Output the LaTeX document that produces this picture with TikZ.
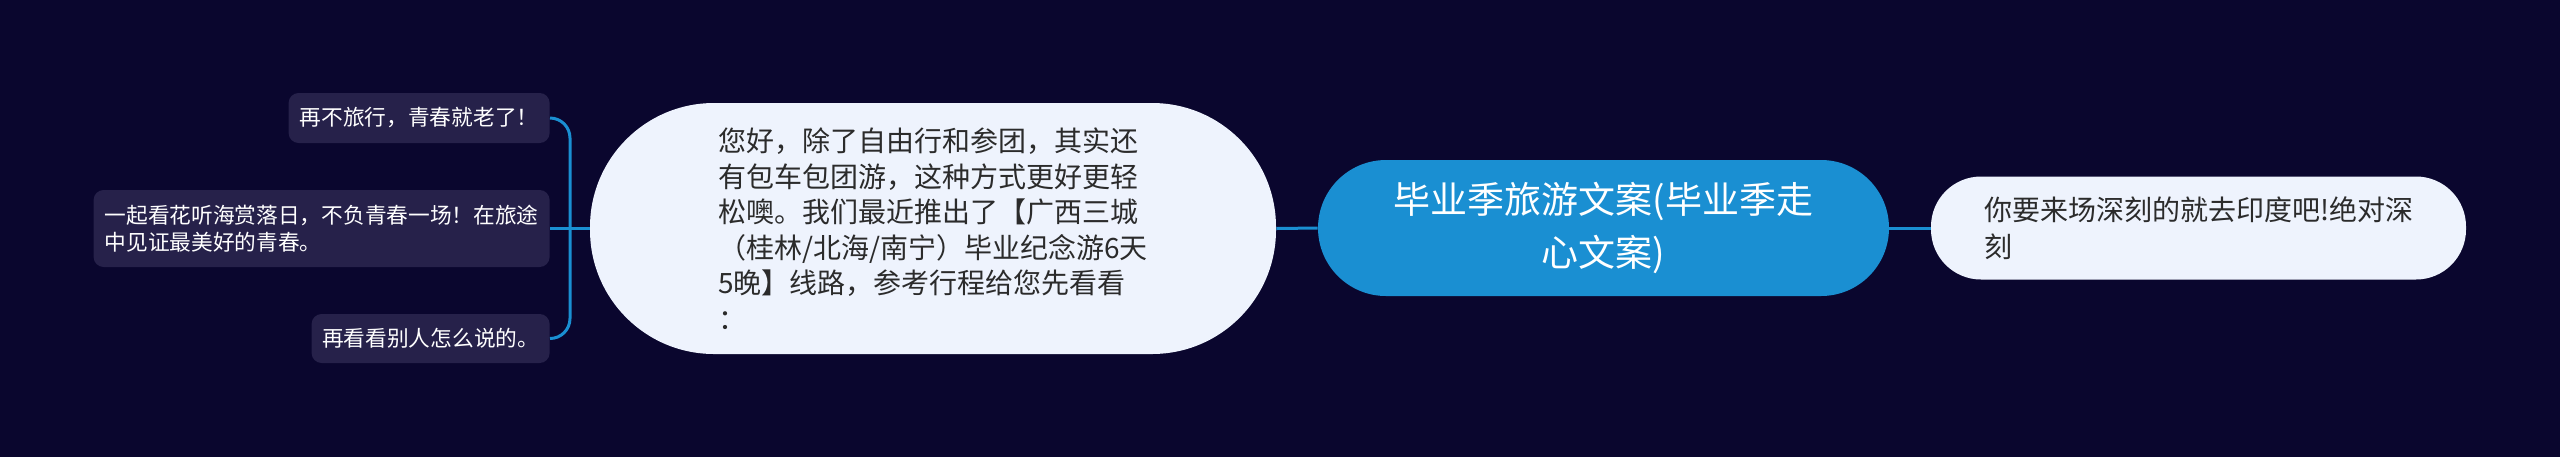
\documentclass[tikz,border=0pt]{standalone}
\usepackage{fontspec}
\setmainfont{Noto Sans CJK SC}
\definecolor{bgc}{HTML}{0A062E}
\definecolor{bluec}{HTML}{1A8FD2}
\definecolor{lightc}{HTML}{EEF3FD}
\definecolor{leafc}{HTML}{26214A}
\definecolor{darktext}{HTML}{2B2B2B}
\begin{document}
\begin{tikzpicture}[x=0.5pt,y=-0.5pt]
\tikzset{
 leaf/.style={fill=leafc, text=white, rounded corners=5pt, font=\fontsize{10.85pt}{13.5pt}\selectfont, align=left, inner sep=0pt, anchor=east},
 light/.style={fill=lightc, text=darktext, align=left, inner sep=0pt, font=\fontsize{14pt}{17.75pt}\selectfont},
 topic/.style={fill=bluec, text=white, align=center, inner sep=0pt, font=\fontsize{18.5pt}{26.5pt}\selectfont},
 conn/.style={draw=bluec, line width=1.5pt}
}
\fill[bgc] (0,0) rectangle (2560,457);
\useasboundingbox (0,0) rectangle (2560,457);

\node[leaf, minimum width=130.5pt, minimum height=25pt] (l1) at (550,118) {再不旅行，青春就老了！};
\node[leaf, minimum width=228pt, minimum height=38.5pt] (l2) at (550,228.5) {一起看花听海赏落日，不负青春一场！在旅途\\中见证最美好的青春。};
\node[leaf, minimum width=119pt, minimum height=24.5pt] (l3) at (550,338.5) {再看看别人怎么说的。};

\node[light, minimum width=343pt, minimum height=125.5pt, rounded corners=62pt] (b) at (933,228.5) {您好，除了自由行和参团，其实还\\有包车包团游，这种方式更好更轻\\松噢。我们最近推出了【广西三城\\（桂林/北海/南宁）毕业纪念游6天\\5晚】线路，参考行程给您先看看\\：};

\node[topic, minimum width=285.5pt, minimum height=68pt, rounded corners=34pt] (c) at (1603.5,228) {毕业季旅游文案(毕业季走\\心文案)};

\node[light, font=\fontsize{14pt}{18.5pt}\selectfont, minimum width=267.5pt, minimum height=51.5pt, rounded corners=25pt] (r) at (2198.5,228) {你要来场深刻的就去印度吧!绝对深\\刻};

\coordinate (bx) at (570,228.5);
\draw[conn, rounded corners=10pt] (l1.east) -| (bx) |- (l3.east);
\draw[conn] (l2.east) -- (b.west);
\draw[conn] (b.east) -- (c.west);
\draw[conn] (c.east) -- (r.west);
\end{tikzpicture}
\end{document}
